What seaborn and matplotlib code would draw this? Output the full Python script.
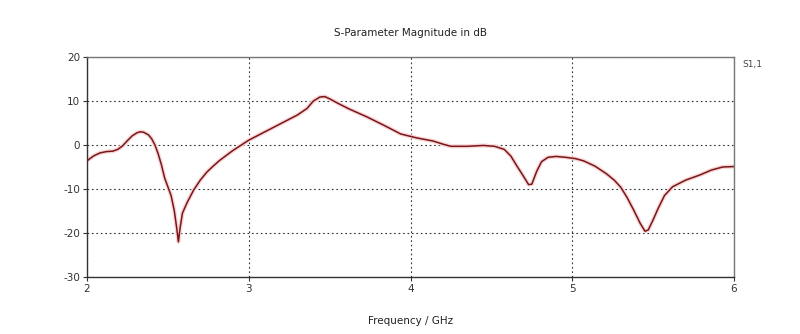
import matplotlib
matplotlib.use("Agg")
import matplotlib.pyplot as plt
import matplotlib.patheffects as pe
import seaborn as sns
import pandas as pd

freq_ghz = [2.00, 2.04, 2.08, 2.12, 2.16, 2.19, 2.22, 2.25, 2.28, 2.31, 2.33, 2.35,
            2.38, 2.40, 2.42, 2.44, 2.46, 2.48, 2.50, 2.52, 2.54, 2.555, 2.565, 2.575,
            2.59, 2.62, 2.66, 2.70, 2.74, 2.78, 2.82, 2.90, 3.00, 3.10, 3.20, 3.30,
            3.36, 3.40, 3.44, 3.47, 3.50, 3.55, 3.62, 3.73, 3.84, 3.94, 4.04, 4.14,
            4.20, 4.25, 4.35, 4.45, 4.52, 4.58, 4.62, 4.66, 4.70, 4.73, 4.75, 4.78,
            4.81, 4.85, 4.90, 4.96, 5.02, 5.07, 5.14, 5.21, 5.26, 5.30, 5.34, 5.38,
            5.42, 5.45, 5.47, 5.50, 5.53, 5.57, 5.62, 5.70, 5.79, 5.86, 5.93, 6.00]
s11_db = [-3.6, -2.5, -1.8, -1.5, -1.4, -1.0, -0.2, 1.0, 2.1, 2.8, 3.0, 2.9,
          2.3, 1.4, 0.0, -2.0, -4.5, -7.5, -9.5, -11.5, -15.0, -19.0, -22.0, -19.0,
          -15.5, -13.0, -10.2, -8.0, -6.2, -4.8, -3.5, -1.3, 1.1, 3.0, 4.9, 6.8,
          8.3, 10.0, 10.9, 11.0, 10.5, 9.5, 8.2, 6.4, 4.4, 2.5, 1.6, 0.9,
          0.2, -0.3, -0.3, -0.1, -0.3, -1.0, -2.5, -4.9, -7.2, -9.0, -8.9, -6.0,
          -3.8, -2.8, -2.6, -2.8, -3.1, -3.6, -4.8, -6.5, -8.0, -9.6, -12.0, -14.8,
          -17.8, -19.6, -19.3, -17.0, -14.5, -11.5, -9.5, -8.0, -6.8, -5.7, -5.0, -4.9]
x_ticks = [2, 3, 4, 5, 6]
y_ticks = [-30, -20, -10, 0, 10, 20]

title = "S-Parameter Magnitude in dB"
x_label = "Frequency / GHz"
legend_label = "S1,1"

df = pd.DataFrame({"freq": freq_ghz, "db": s11_db})

sns.set_theme(style="white")
plt.rcParams["font.family"] = ["DejaVu Sans"]

fig = plt.figure(figsize=(8.0, 3.34), dpi=100)
ax = fig.add_axes([87 / 800, 1 - 277 / 334, (734 - 87) / 800, (277 - 57) / 334])

sns.lineplot(data=df, x="freq", y="db", ax=ax, color="#7a1519", linewidth=1.1,
             path_effects=[pe.Stroke(linewidth=3.0, foreground="#f7d6d6"), pe.Normal()])

ax.set_xlim(2, 6)
ax.set_ylim(-30, 20)
ax.set_xticks(x_ticks)
ax.set_yticks(y_ticks)
ax.set_xticklabels([str(t) for t in x_ticks], fontsize=7.5, color="#333333")
ax.set_yticklabels([str(t) for t in y_ticks], fontsize=7.5, color="#333333")
ax.tick_params(axis="both", length=3, width=0.8, color="#333333", pad=2,
               left=True, bottom=True, direction="out")
ax.grid(True, linestyle=(0, (1.5, 2.5)), color="#333333", linewidth=0.8)
ax.set_xlabel(x_label, fontsize=7.5, color="#222222", labelpad=16)
ax.set_ylabel("")
ax.set_title(title, fontsize=7.5, color="#222222", pad=15)

for side in ["left", "bottom"]:
    ax.spines[side].set_color("#333333")
    ax.spines[side].set_linewidth(1.0)
for side in ["top", "right"]:
    ax.spines[side].set_color("#777777")
    ax.spines[side].set_linewidth(1.0)

fig.text(742 / 800, 1 - 64 / 334, legend_label, fontsize=6.5, color="#444444",
         va="center", ha="left")

fig.savefig("out.png", dpi=100, facecolor="white")
